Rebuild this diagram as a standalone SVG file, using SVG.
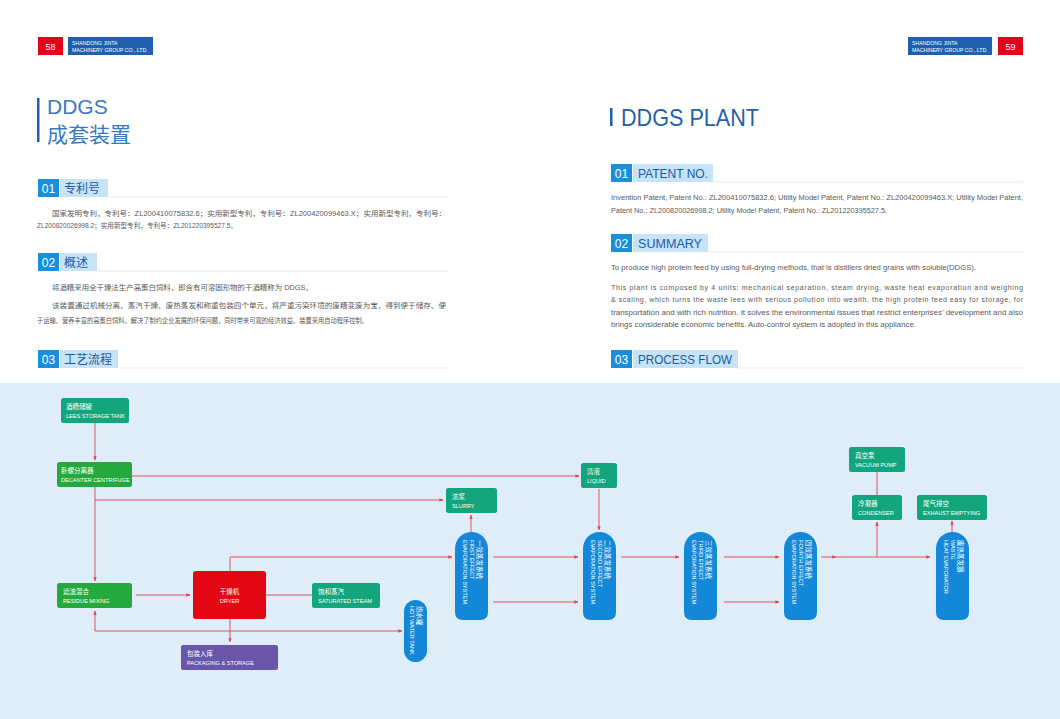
<svg xmlns="http://www.w3.org/2000/svg" width="1060" height="719" viewBox="0 0 1060 719">
<style>
.cn{font-family:"Noto Sans CJK SC","Noto Sans",sans-serif}
.en{font-family:"Liberation Sans","DejaVu Sans",sans-serif}
.body{font-family:"Liberation Sans","Noto Sans CJK SC",sans-serif;font-size:7px;fill:#5a5a5a}
.bodycn{font-family:"Liberation Sans","Noto Sans CJK SC",sans-serif;font-size:7px;fill:#5a5a5a}
.num{fill:#1a8fdc}
.lab{fill:#c6e3f7}
.numt{font-family:"Liberation Sans",sans-serif;font-size:12px;fill:#fff}
.labt{font-size:12px;fill:#1d5aa6}
.div{stroke:#e6e9ec;stroke-width:1}
.teal{fill:#13a57c}
.green{fill:#25a93c}
.evap{fill:#1388d8}
.nt1{font-family:"Noto Sans CJK SC",sans-serif;font-size:6.5px;fill:#fff}
.nt2{font-family:"Liberation Sans",sans-serif;font-size:5.6px;fill:#fff}
.con{fill:none;stroke:#e0424f;stroke-width:0.9}
</style>
<defs>
<marker id="ar" viewBox="0 0 6 6" refX="5.5" refY="3" markerWidth="4" markerHeight="4" orient="auto" markerUnits="userSpaceOnUse">
<path d="M0,0.5 L6,3 L0,5.5 Z" fill="#e0424f"/>
</marker>
</defs>
<rect width="1060" height="719" fill="#ffffff"/>
<rect x="0" y="383" width="1060" height="336" fill="#dfedf9"/>

<!-- headers -->
<g id="header-left">
<rect x="38" y="37" width="25" height="18" fill="#e2001a"/>
<text x="50.5" y="50" class="en" font-size="9" fill="#fff" text-anchor="middle">58</text>
<rect x="68" y="37" width="85" height="18" fill="#1f5fae"/>
<text x="72" y="44.5" class="en" font-size="5.2" fill="#fff">SHANDONG JINTA</text>
<text x="72" y="52" class="en" font-size="5.2" fill="#fff">MACHINERY GROUP CO., LTD.</text>
</g>
<g id="header-right">
<rect x="908" y="37" width="84" height="18" fill="#1f5fae"/>
<text x="912" y="44.5" class="en" font-size="5.2" fill="#fff">SHANDONG JINTA</text>
<text x="912" y="52" class="en" font-size="5.2" fill="#fff">MACHINERY GROUP CO., LTD.</text>
<rect x="998" y="37" width="25" height="18" fill="#e2001a"/>
<text x="1010.5" y="50" class="en" font-size="9" fill="#fff" text-anchor="middle">59</text>
</g>

<!-- left page -->
<g id="title-left">
<rect x="37" y="98" width="2.5" height="44" fill="#1f5fae"/>
<text x="47" y="113.5" class="en" font-size="21" fill="#3a78c0">DDGS</text>
<text x="47" y="142" class="cn" font-size="21" fill="#3a78c0">成套装置</text>
</g>
<g id="sec01-left">
<rect x="38" y="179" width="21" height="18" class="num"/>
<text x="48.5" y="192.5" class="numt" text-anchor="middle">01</text>
<rect x="60" y="179" width="48" height="18" class="lab"/>
<text x="64" y="192.5" class="cn labt">专利号</text>
<line x1="108" y1="197" x2="448" y2="197" class="div"/>
<text x="52" y="216" class="bodycn" textLength="394" lengthAdjust="spacingAndGlyphs">国家发明专利，专利号：ZL200410075832.6；实用新型专利，专利号：ZL200420099463.X；实用新型专利，专利号：</text>
<text x="37" y="228" class="bodycn" textLength="200" lengthAdjust="spacingAndGlyphs">ZL200820026998.2；实用新型专利，专利号：ZL201220395527.5。</text>
</g>
<g id="sec02-left">
<rect x="38" y="253" width="21" height="18" class="num"/>
<text x="48.5" y="266.5" class="numt" text-anchor="middle">02</text>
<rect x="60" y="253" width="37" height="18" class="lab"/>
<text x="64" y="266.5" class="cn labt">概述</text>
<line x1="97" y1="271" x2="448" y2="271" class="div"/>
<text x="52" y="290" class="bodycn" textLength="261" lengthAdjust="spacingAndGlyphs">将酒糟采用全干燥法生产高蛋白饲料，即含有可溶固形物的干酒糟称为 DDGS。</text>
<text x="52" y="308" class="bodycn" textLength="394" lengthAdjust="spacingAndGlyphs">该装置通过机械分离、蒸汽干燥、废热蒸发和称重包装四个单元，将严重污染环境的废糟变废为宝，得到便于储存、便</text>
<text x="37" y="323" class="bodycn" textLength="331" lengthAdjust="spacingAndGlyphs">于运输、营养丰富的高蛋白饲料。解决了制约企业发展的环保问题，同时带来可观的经济效益。装置采用自动程序控制。</text>
</g>
<g id="sec03-left">
<rect x="38" y="350" width="21" height="18" class="num"/>
<text x="48.5" y="363.5" class="numt" text-anchor="middle">03</text>
<rect x="60" y="350" width="58" height="18" class="lab"/>
<text x="64" y="363.5" class="cn labt">工艺流程</text>
<line x1="118" y1="368" x2="448" y2="368" class="div"/>
</g>

<!-- right page -->
<g id="title-right">
<rect x="610" y="108" width="2.5" height="18" fill="#1f5fae"/>
<text x="621" y="126" class="en" font-size="24" fill="#1f5fae" textLength="138" lengthAdjust="spacingAndGlyphs">DDGS PLANT</text>
</g>
<g id="sec01-right">
<rect x="611" y="164" width="21" height="18" class="num"/>
<text x="621.5" y="177.5" class="numt" text-anchor="middle">01</text>
<rect x="633" y="164" width="80" height="18" class="lab"/>
<text x="638" y="177.5" class="en labt" textLength="70" lengthAdjust="spacingAndGlyphs">PATENT NO.</text>
<line x1="713" y1="182" x2="1023" y2="182" class="div"/>
<text x="611" y="200" class="body" textLength="412" lengthAdjust="spacingAndGlyphs">Invention Patent, Patent No.: ZL200410075832.6; Utility Model Patent, Patent No.: ZL200420099463.X; Utility Model Patent,</text>
<text x="611" y="212.5" class="body" textLength="276" lengthAdjust="spacingAndGlyphs">Patent No.: ZL200820026998.2; Utility Model Patent, Patent No.: ZL201220395527.5.</text>
</g>
<g id="sec02-right">
<rect x="611" y="234" width="21" height="18" class="num"/>
<text x="621.5" y="247.5" class="numt" text-anchor="middle">02</text>
<rect x="633" y="234" width="75" height="18" class="lab"/>
<text x="638" y="247.5" class="en labt" textLength="64" lengthAdjust="spacingAndGlyphs">SUMMARY</text>
<line x1="708" y1="252" x2="1023" y2="252" class="div"/>
<text x="611" y="270" class="body" textLength="365" lengthAdjust="spacingAndGlyphs">To produce high protein feed by using full-drying methods, that is distillers dried grains with soluble(DDGS).</text>
<text x="611" y="289.5" class="body" font-size="7.3" textLength="412" lengthAdjust="spacing">This plant is composed by 4 units: mechanical separation, steam drying, waste heat evaporation and weighing</text>
<text x="611" y="302" class="body" font-size="7.3" textLength="412" lengthAdjust="spacing">&amp; scaling, which turns the waste lees with serious pollution into wealth, the high protein feed easy for storage, for</text>
<text x="611" y="314.5" class="body" textLength="412" lengthAdjust="spacingAndGlyphs">transportation and with rich nutrition. It solves the environmental issues that restrict enterprises' development and also</text>
<text x="611" y="327" class="body" textLength="305" lengthAdjust="spacingAndGlyphs">brings considerable economic benefits. Auto-control system is adopted in this appliance.</text>
</g>
<g id="sec03-right">
<rect x="611" y="350" width="21" height="18" class="num"/>
<text x="621.5" y="363.5" class="numt" text-anchor="middle">03</text>
<rect x="633" y="350" width="105" height="18" class="lab"/>
<text x="638" y="363.5" class="en labt" textLength="94" lengthAdjust="spacingAndGlyphs">PROCESS FLOW</text>
<line x1="738" y1="368" x2="1023" y2="368" class="div"/>
</g>

<!-- connectors -->
<g id="connectors">
<path class="con" d="M95,423 V460" marker-end="url(#ar)"/>
<path class="con" d="M132,476 H579" marker-end="url(#ar)"/>
<path class="con" d="M95,487 V581" marker-end="url(#ar)"/>
<path class="con" d="M95,500 H443" marker-end="url(#ar)"/>
<path class="con" d="M599,489 V530" marker-end="url(#ar)"/>
<path class="con" d="M471,532 V515" marker-end="url(#ar)"/>
<path class="con" d="M136,595 H190" marker-end="url(#ar)"/>
<path class="con" d="M266,595 H312"/>
<path class="con" d="M230,571 V557 H452" marker-end="url(#ar)"/>
<path class="con" d="M230,619 V642" marker-end="url(#ar)"/>
<path class="con" d="M95,631 H402" marker-end="url(#ar)"/>
<path class="con" d="M95,631 V611" marker-end="url(#ar)"/>
<path class="con" d="M493,557 H578" marker-end="url(#ar)"/>
<path class="con" d="M493,602 H578" marker-end="url(#ar)"/>
<path class="con" d="M621,557 H679" marker-end="url(#ar)"/>
<path class="con" d="M724,557 H779" marker-end="url(#ar)"/>
<path class="con" d="M724,602 H779" marker-end="url(#ar)"/>
<path class="con" d="M821,557 H836" marker-end="url(#ar)"/>
<path class="con" d="M836,557 H930" marker-end="url(#ar)"/>
<path class="con" d="M877,557 V522" marker-end="url(#ar)"/>
<path class="con" d="M877,495 V472"/>
<path class="con" d="M952,532 V521" marker-end="url(#ar)"/>
</g>

<!-- nodes -->
<g id="lees-storage-tank">
<rect x="61" y="398" width="68" height="25" rx="2.5" class="teal"/>
<text x="66" y="409" class="nt1">酒糟储罐</text>
<text x="66" y="417.5" class="nt2">LEES STORAGE TANK</text>
</g>
<g id="decanter-centrifuge">
<rect x="57" y="462" width="75" height="25" rx="2.5" class="green"/>
<text x="61" y="473" class="nt1">卧螺分离器</text>
<text x="61" y="481.5" class="nt2">DECANTER CENTRIFUGE</text>
</g>
<g id="slurry">
<rect x="446" y="488" width="51" height="25" rx="2.5" class="teal"/>
<text x="452" y="499" class="nt1">浓浆</text>
<text x="452" y="507.5" class="nt2">SLURRY</text>
</g>
<g id="liquid">
<rect x="581" y="463" width="36" height="25" rx="2.5" class="teal"/>
<text x="587" y="474" class="nt1">清液</text>
<text x="587" y="482.5" class="nt2">LIQUID</text>
</g>
<g id="residue-mixing">
<rect x="57" y="583" width="75" height="25" rx="2.5" class="green"/>
<text x="63" y="594" class="nt1">滤渣混合</text>
<text x="63" y="602.5" class="nt2">RESIDUE MIXING</text>
</g>
<g id="dryer">
<rect x="193" y="571" width="73" height="48" rx="3" fill="#e30613"/>
<text x="229.5" y="594" class="nt1" text-anchor="middle">干燥机</text>
<text x="229.5" y="602.5" class="nt2" text-anchor="middle">DRYER</text>
</g>
<g id="saturated-steam">
<rect x="312" y="583" width="68" height="25" rx="2.5" class="teal"/>
<text x="318" y="594" class="nt1">饱和蒸汽</text>
<text x="318" y="602.5" class="nt2">SATURATED STEAM</text>
</g>
<g id="packaging-storage">
<rect x="181" y="645" width="97" height="25" rx="2" fill="#6a56a8"/>
<text x="187" y="656" class="nt1">包装入库</text>
<text x="187" y="664.5" class="nt2">PACKAGING &amp; STORAGE</text>
</g>
<g id="hot-water-tank">
<rect x="404" y="600" width="23" height="62" rx="11.5" class="evap"/>
<text transform="translate(417,606) rotate(90)" class="nt1">热水罐</text>
<text transform="translate(409.5,606) rotate(90)" class="nt2">HOT WATER TANK</text>
</g>
<g id="first-effect">
<path class="evap" d="M455,548.5 A16.5,16.5 0 0 1 488,548.5 V612 Q488,620 480,620 H463 Q455,620 455,612 Z"/>
<text transform="translate(477,540) rotate(90)" class="nt1">一效蒸发系统</text>
<text transform="translate(469.5,540) rotate(90)" class="nt2">FIRST EFFECT</text>
<text transform="translate(462.5,540) rotate(90)" class="nt2">EVAPORATION SYSTEM</text>
</g>
<g id="second-effect">
<path class="evap" d="M583,548.5 A16.5,16.5 0 0 1 616,548.5 V612 Q616,620 608,620 H591 Q583,620 583,612 Z"/>
<text transform="translate(605,540) rotate(90)" class="nt1">二效蒸发系统</text>
<text transform="translate(597.5,540) rotate(90)" class="nt2">SECOND EFFECT</text>
<text transform="translate(590.5,540) rotate(90)" class="nt2">EVAPORATION SYSTEM</text>
</g>
<g id="third-effect">
<path class="evap" d="M684,548.5 A16.5,16.5 0 0 1 717,548.5 V612 Q717,620 709,620 H692 Q684,620 684,612 Z"/>
<text transform="translate(706,540) rotate(90)" class="nt1">三效蒸发系统</text>
<text transform="translate(698.5,540) rotate(90)" class="nt2">THIRD EFFECT</text>
<text transform="translate(691.5,540) rotate(90)" class="nt2">EVAPORATION SYSTEM</text>
</g>
<g id="fourth-effect">
<path class="evap" d="M784,548.5 A16.5,16.5 0 0 1 817,548.5 V612 Q817,620 809,620 H792 Q784,620 784,612 Z"/>
<text transform="translate(806,540) rotate(90)" class="nt1">四效蒸发系统</text>
<text transform="translate(798.5,540) rotate(90)" class="nt2">FOURTH EFFECT</text>
<text transform="translate(791.5,540) rotate(90)" class="nt2">EVAPORATION SYSTEM</text>
</g>
<g id="waste-heat-evaporator">
<path class="evap" d="M936,548.5 A16.5,16.5 0 0 1 969,548.5 V612 Q969,620 961,620 H944 Q936,620 936,612 Z"/>
<text transform="translate(958,540) rotate(90)" class="nt1">废热蒸发器</text>
<text transform="translate(950.5,540) rotate(90)" class="nt2">WASTE</text>
<text transform="translate(943.5,540) rotate(90)" class="nt2">HEAT EVAPORATOR</text>
</g>
<g id="vacuum-pump">
<rect x="849" y="447" width="56" height="25" rx="2.5" class="teal"/>
<text x="855" y="458" class="nt1">真空泵</text>
<text x="855" y="466.5" class="nt2">VACUUM PUMP</text>
</g>
<g id="condenser">
<rect x="852" y="495" width="50" height="25" rx="2.5" class="teal"/>
<text x="858" y="506" class="nt1">冷凝器</text>
<text x="858" y="514.5" class="nt2">CONDENSER</text>
</g>
<g id="exhaust-emptying">
<rect x="917" y="495" width="70" height="25" rx="2.5" class="teal"/>
<text x="923" y="506" class="nt1">尾气排空</text>
<text x="923" y="514.5" class="nt2">EXHAUST EMPTYING</text>
</g>
</svg>
